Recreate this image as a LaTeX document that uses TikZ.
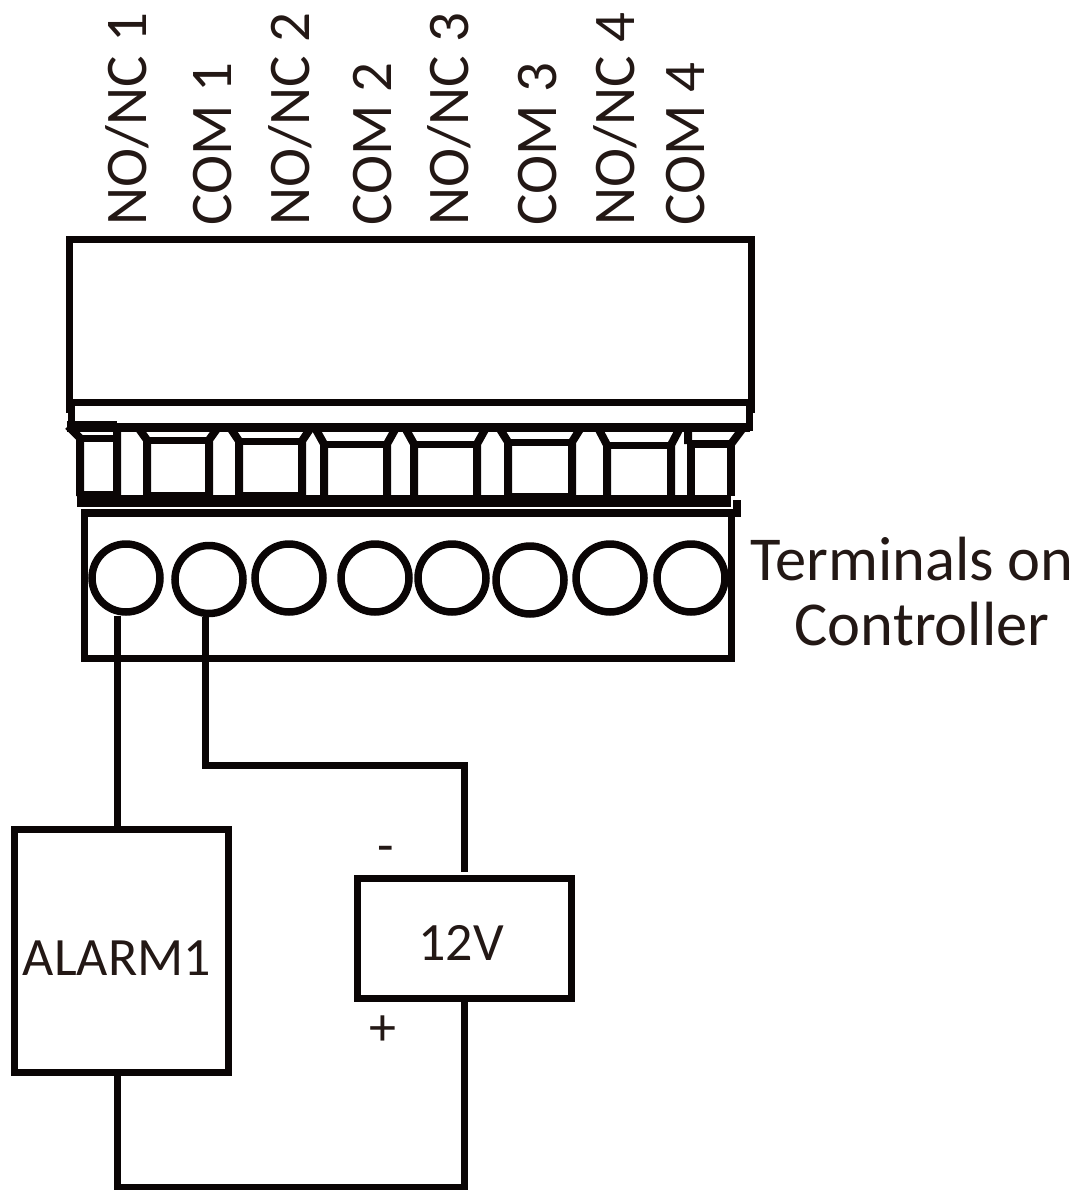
\documentclass[tikz,border=0pt]{standalone}
\usepackage{fontspec}
\setmainfont{Carlito}
\definecolor{inkblack}{HTML}{0A0505}
\definecolor{textblack}{HTML}{231815}
\tikzset{
  wire/.style={draw=inkblack,line width=7pt},
  unitbox/.style={draw=inkblack,line width=7pt,inner sep=0pt},
  terminal/.style={circle,draw=inkblack,line width=7.5pt,minimum size=68pt,inner sep=0pt},
  pinlabel/.style={text=textblack,font=\fontsize{59}{59}\selectfont,rotate=90,anchor=base west,inner sep=0pt},
  boxlabel/.style={text=textblack,font=\fontsize{54}{65}\selectfont,inner sep=0pt},
  sidelabel/.style={text=textblack,font=\fontsize{62.5}{65}\selectfont,inner sep=0pt,anchor=base}
}
\begin{document}
\begin{tikzpicture}[x=1pt,y=-1pt]
\useasboundingbox (0,0) rectangle (1081,1190);

% connector body
\node[unitbox,minimum width=682pt,minimum height=162pt] (body) at (410.5,321) {};
\draw[wire] (69.5,402) -- (69.5,413) (751.5,402) -- (751.5,413);
\draw[wire] (71.5,402) -- (71.5,427) -- (749.5,427) -- (749.5,402);
\draw[wire,line width=9pt] (71.5,427.5) -- (749.5,427.5);

% pins: left, right, top of the frame, bottom of the opening
\foreach \l/\r/\t/\b in {147/209/440/492,239/302/441/492,324/387/444/495,414/477/444/495,508/572/442/493,607/671/445/495}{
  \draw[wire,line width=8pt] (\l-10,426) -- (\l,\t) -- (\l,496) (\r,496) -- (\r,\t) -- (\r+10,426);
  \draw[wire] (\l,\t) -- (\r,\t);
  \draw[wire] (\l,\b+3.5) -- (\r,\b+3.5);
}
\draw[wire,line width=8pt] (68,426) -- (80,438) -- (80,496) (117,496) -- (117,427);
\draw[wire] (80,438) -- (117,438);
\draw[wire] (80,494) -- (117,494);
\draw[wire,line width=11pt] (67,426) -- (117,426);
\draw[wire,line width=8pt] (691,496) -- (691,444) -- (731,444) -- (731,496);
\draw[wire,line width=8pt] (688,430) -- (688,444) (731,444) -- (743,428);

% terminal block
\node[unitbox,minimum width=647pt,minimum height=146pt] (block) at (407.7,585.5) {};
\draw[wire,line width=12pt] (77,501) -- (731,501);
\draw[wire,line width=8pt] (81,513) -- (741,513);
\draw[wire,line width=8pt] (737,500) -- (737,517);

\foreach \x/\y [count=\i] in {126/578,209/579.5,289/578,375/578,452/578,530/580,610/578,691/578}{
  \node[terminal] (term\i) at (\x,\y) {};
}

% pin names
\foreach \x/\name in {146/{NO/NC 1},231.5/{COM 1},309/{NO/NC 2},391/{COM 2},468/{NO/NC 3},556/{COM 3},634/{NO/NC 4},704/{COM 4}}{
  \node[pinlabel] (pin\x) at (\x,226) {\name};
}

\node[sidelabel] (ctrltop) at (912,580) {Terminals on};
\node[sidelabel] (ctrlbottom) at (922,645) {Controller};

% alarm and supply
\node[unitbox,minimum width=214pt,minimum height=243pt] (alarm) at (121.5,950.5) {};
\node[boxlabel] (alarmtext) at (117,958) {ALARM1};
\node[unitbox,minimum width=214pt,minimum height=120pt] (power) at (464.5,938) {};
\node[boxlabel] (powertext) at (461,943) {12V};
\node[boxlabel] (minus) at (386,855) {-};
\node[boxlabel] (plus) at (382.5,1031) {+};

\coordinate (c1) at (205,765);
\coordinate (c2) at (117.5,1187);
\coordinate (c3) at (464.7,1187);
\coordinate (c4) at (464.7,872);
\draw[wire] (term1.south -| c2) -- (c2 |- alarm.north);
\draw[wire] (term2.south -| c1) -- (c1) -- (c1 -| c3) -- (c4);
\draw[wire] (c2 |- alarm.south) -- (c2) -- (c3) -- (c3 |- power.south);
\end{tikzpicture}
\end{document}
